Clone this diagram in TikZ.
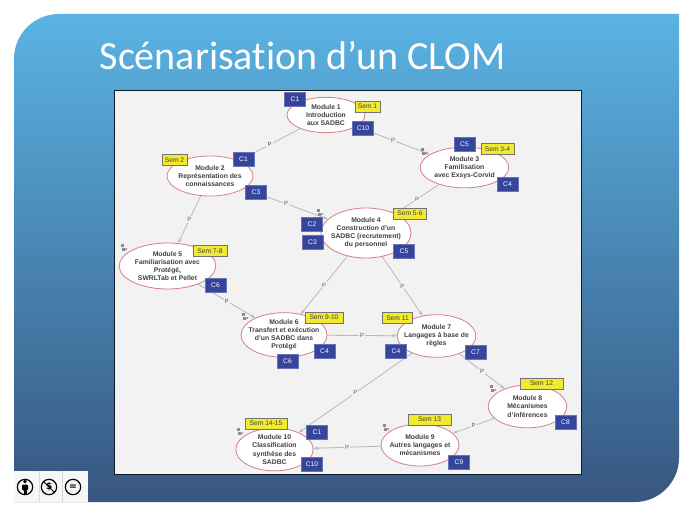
\documentclass[tikz,border=0pt]{standalone}
\usepackage{fontspec}
\setmainfont{Liberation Sans}
\newfontfamily\titlefont[Ligatures=NoCommon]{Carlito}
\newfontfamily\symfont{DejaVu Sans}
\usetikzlibrary{shapes.geometric,arrows.meta}
\definecolor{slidetop}{HTML}{5AB3E3}
\definecolor{slidemid}{HTML}{4A8DC2}
\definecolor{slidebot}{HTML}{375680}
\definecolor{compblue}{HTML}{36459C}
\definecolor{semyellow}{HTML}{F1EA2E}
\definecolor{linkgray}{HTML}{B8B8B8}
\definecolor{ringred}{HTML}{D67F84}
\tikzset{
  module/.style={draw=ringred, ellipse, fill=white, line width=0.6pt, align=center, font=\fontsize{5.1}{6.1}\selectfont\bfseries, text=black!75, inner sep=-10pt},
  comp/.style={fill=compblue, draw=compblue!75!white, text=white, font=\fontsize{5}{5}\selectfont, minimum width=16pt, minimum height=10.5pt, inner sep=0pt},
  sem/.style={fill=semyellow, draw=black!55, line width=0.4pt, font=\fontsize{5}{5}\selectfont, text=black!75, minimum height=8pt, inner sep=0pt},
  link/.style={draw=linkgray, line width=0.6pt, -{Stealth[length=3.5pt,width=2.5pt]}},
  plabel/.style={fill=black!5, font=\fontsize{4.5}{4.5}\selectfont, text=black!65, inner sep=0.8pt},
  linkmark/.pic={
    \fill[black!45] (-2.5,-3.5) rectangle (0.5,-0.5);
    \fill[black!45] (-1.5,0.5) rectangle (1.5,3.5);
    \draw[black!45, line width=0.4pt, -{Stealth[length=1.5pt,width=1.5pt]}] (1,2) -- (4.5,2);
  },
  cc/.style={draw=black, line width=0.9pt, circle, minimum size=11.5pt, inner sep=0pt, font=\fontsize{7}{7}\symfont\bfseries}
}
\begin{document}
\begin{tikzpicture}[x=0.75pt,y=-0.75pt]
\useasboundingbox (0,0) rectangle (693,517);
\fill[white] (0,0) rectangle (693,517);
% background of the slide
\shade[top color=slidetop, middle color=slidemid, bottom color=slidebot]
  (14,502) -- (14,59) .. controls (14,34) and (34,14) .. (59,14) -- (679,14) -- (679,458)
  .. controls (679,482) and (659,502) .. (635,502) -- cycle;
\node[anchor=west, text=white, font=\fontsize{30}{30}\titlefont] (title) at (95,56) {Scénarisation d’un CLOM};
% panel
\draw[fill=black!5, draw=black!70!slidebot, line width=0.6pt] (114,90) rectangle (581,474);

% modules
\node[module, minimum width=58.5pt, minimum height=26.5pt] (m1) at (326,115) {Module 1\\Introduction\\aux SADBC};
\node[module, minimum width=64.5pt, minimum height=30pt] (m2) at (210,176) {Module 2\\Représentation des\\connaissances};
\node[module, minimum width=66.5pt, minimum height=30.5pt] (m3) at (464.5,167.5) {Module 3\\Familisation\\avec Exsys-Corvid};
\node[module, minimum width=67.5pt, minimum height=37.5pt] (m4) at (366,233) {Module 4\\Construction d’un\\SADBC (recrutement)\\du personnel};
\node[module, minimum width=72.5pt, minimum height=34.5pt] (m5) at (167.5,266) {Module 5\\Familiarisation avec\\Protégé,\\SWRLTab et Pellet};
\node[module, minimum width=64.5pt, minimum height=33.5pt] (m6) at (284,335) {Module 6\\Transfert et exécution\\d’un SADBC dans\\Protégé};
\node[module, minimum width=59pt, minimum height=32pt] (m7) at (436.5,336) {Module 7\\Langages à base de\\règles};
\node[module, minimum width=59pt, minimum height=32pt] (m8) at (527.5,406.5) {Module 8\\Mécanismes\\d’inférences};
\node[module, minimum width=58.5pt, minimum height=31.5pt] (m9) at (420,445) {Module 9\\Autres langages et\\mécanismes};
\node[module, minimum width=58pt, minimum height=32pt] (m10) at (274.5,449.5) {Module 10\\Classification\\synthèse des\\SADBC};

% links
\draw[link] (m1) -- node[plabel] {P} (m2);
\draw[link] (m1) -- node[plabel] {P} (m3);
\draw[link] (m2) -- node[plabel] {P} (m5);
\draw[link] (m2) -- node[plabel] {P} (m4);
\draw[link] (m3) -- node[plabel] {P} (m4);
\draw[link] (m4) -- node[plabel] {P} (m6);
\draw[link] (m4) -- node[plabel] {P} (m7);
\draw[link] (m5) -- node[plabel] {P} (m6);
\draw[link] (m6) -- node[plabel] {P} (m7);
\draw[link] (m7) -- node[plabel] {P} (m8);
\draw[link] (m7) -- node[plabel] {P} (m10);
\draw[link] (m8) -- node[plabel] {P} (m9);
\draw[link] (m9) -- node[plabel] {P} (m10);

% competences
\node[comp] (c1a) at (295,99.5) {C1};
\node[comp] (c10a) at (363,128) {C10};
\node[comp] (c1b) at (243.5,159) {C1};
\node[comp] (c3a) at (256,192) {C3};
\node[comp] (c5a) at (464.5,144) {C5};
\node[comp] (c4a) at (507.5,184) {C4};
\node[comp] (c2) at (312,224) {C2};
\node[comp] (c3b) at (312.5,242) {C3};
\node[comp] (c5b) at (404,251) {C5};
\node[comp] (c6a) at (215.5,285) {C6};
\node[comp] (c6b) at (287.5,361) {C6};
\node[comp] (c4b) at (324.5,351) {C4};
\node[comp] (c4c) at (396,351) {C4};
\node[comp] (c7) at (475.5,352) {C7};
\node[comp] (c8) at (565.5,422) {C8};
\node[comp] (c9) at (459,462) {C9};
\node[comp] (c1c) at (317,432) {C1};
\node[comp] (c10b) at (312,464.5) {C10};

% semaines
\node[sem, minimum width=18.75pt] (s1) at (367.5,106.5) {Sem 1};
\node[sem, minimum width=19pt] (s2) at (174.5,160) {Sem 2};
\node[sem, minimum width=25pt] (s34) at (497.5,149) {Sem 3-4};
\node[sem, minimum width=25pt] (s56) at (410,213.5) {Sem 5-6};
\node[sem, minimum width=25.5pt] (s78) at (210,251) {Sem 7-8};
\node[sem, minimum width=28.5pt] (s910) at (324,317.5) {Sem 9-10};
\node[sem, minimum width=22.5pt] (s11) at (397.5,318) {Sem 11};
\node[sem, minimum width=32pt] (s12) at (541.5,383.5) {Sem 12};
\node[sem, minimum width=32pt] (s13) at (429.5,419.5) {Sem 13};
\node[sem, minimum width=31.5pt] (s1415) at (266,423.5) {Sem 14-15};

% little marks beside the modules
\foreach \px/\py in {423/151, 319/212, 123/247, 244/316, 492/388, 385/427, 239/431}
  \pic at (\px,\py) {linkmark};

% licence strip
\fill[black!3] (14,471) rectangle (88,502);
\draw[black!15] (39,471) -- (39,502) (62,471) -- (62,502);
\node[cc] (by) at (25,487) {};
\node[cc] (nc) at (49,487) {\$};
\node[cc] (nd) at (73,487) {=};
\fill[black] (25,481.5) circle[radius=1.9];
\fill[black, rounded corners=0.8pt] (22,484.5) rectangle (28,490.5);
\fill[black] (23.5,490) rectangle (26.5,495);
\draw[black, line width=0.7pt] (nc.north west) -- (nc.south east);
\end{tikzpicture}
\end{document}
